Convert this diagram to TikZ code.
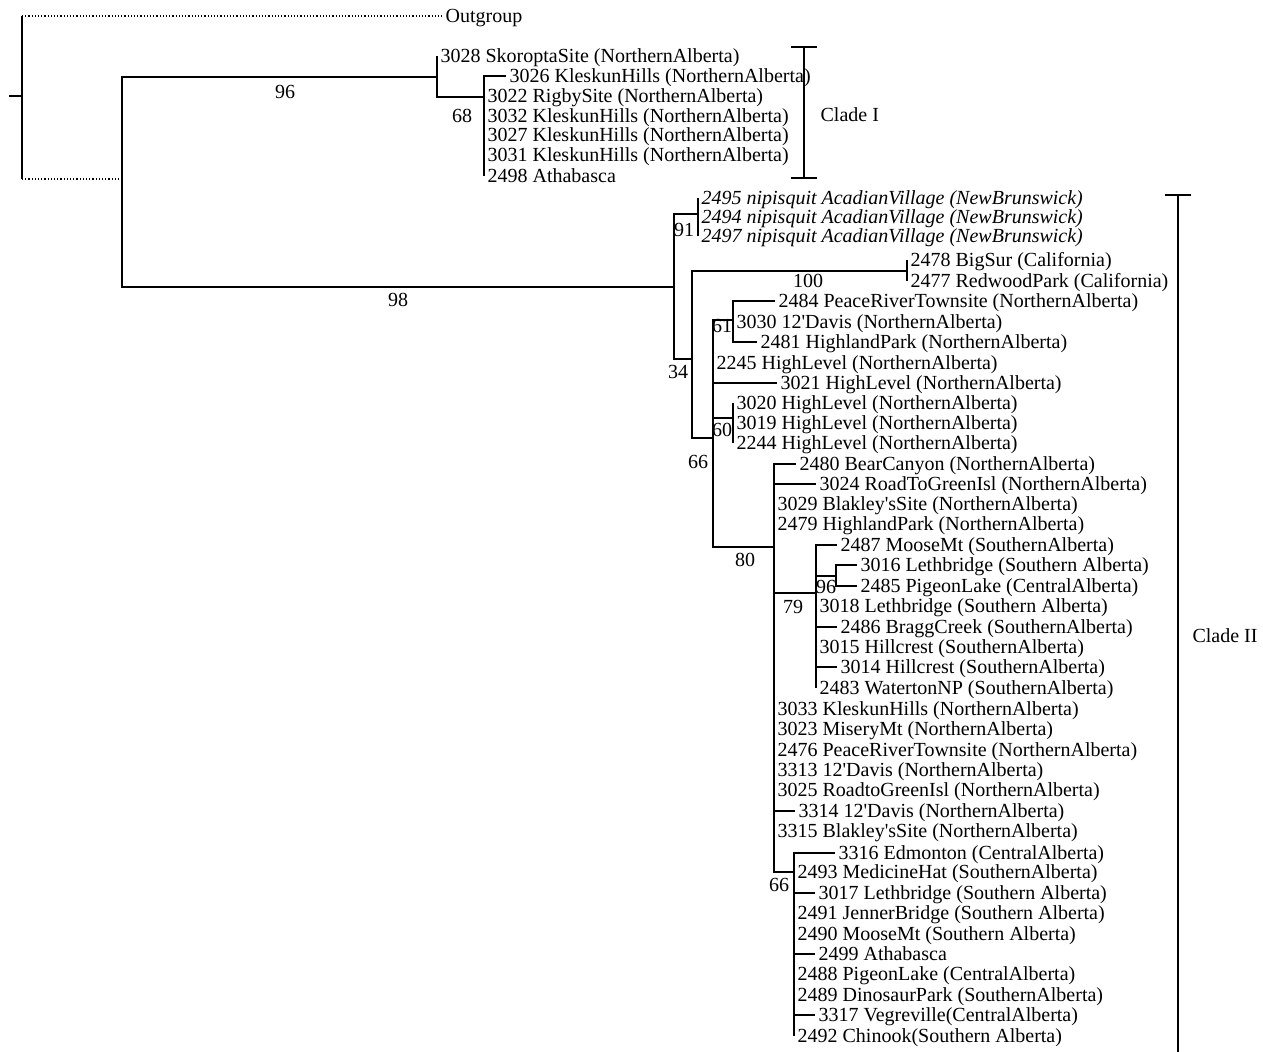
\documentclass[tikz,border=0pt]{standalone}
\usepackage{fontspec}
\newfontfamily\treefont{Liberation Serif}
\usepackage{tikz}

\begin{document}
\begin{tikzpicture}[
  x=0.5pt, y=-0.5pt,
  every node/.style={font=\treefont\fontsize{10}{12}\selectfont},
  leaf/.style={anchor=west, inner xsep=1.5pt, inner ysep=0pt, text height=6.6pt, text depth=0pt},
  boot/.style={inner sep=0pt, text height=6.6pt, text depth=0pt},
  every path/.style={line width=0.6pt},
  clade/.style={line width=1.3pt}
]
  \useasboundingbox (0,0) rectangle (1263,1052);

  \coordinate (root) at (9,96);
  \coordinate (r0) at (22,96);
  \coordinate (ing) at (122,179);
  \coordinate (c96) at (437,77);
  \coordinate (c68) at (484,97);
  \coordinate (c98) at (674,287);
  \coordinate (c91) at (698,214);
  \coordinate (c34) at (692,359);
  \coordinate (c100) at (907,271);
  \coordinate (c66) at (713,438);
  \coordinate (c61) at (733,320);
  \coordinate (c60) at (733,418);
  \coordinate (c80) at (774,547);
  \coordinate (c79) at (816,593);
  \coordinate (c96b) at (836,576);
  \coordinate (c66b) at (794,872);

  \node[leaf] (og) at (442,16) {Outgroup};

  \node[leaf] (l3028) at (437,56) {3028 SkoroptaSite (NorthernAlberta)};
  \node[leaf] (l3026) at (506,76) {3026 KleskunHills (NorthernAlberta)};
  \node[leaf] (l3022) at (484,96) {3022 RigbySite (NorthernAlberta)};
  \node[leaf] (l3032) at (484,116) {3032 KleskunHills (NorthernAlberta)};
  \node[leaf] (l3027) at (484,135) {3027 KleskunHills (NorthernAlberta)};
  \node[leaf] (l3031) at (484,155) {3031 KleskunHills (NorthernAlberta)};
  \node[leaf] (l2498) at (484,176) {2498 Athabasca};

  \node[leaf] (l2495) at (698,198) {\itshape 2495 nipisquit AcadianVillage (NewBrunswick)};
  \node[leaf] (l2494) at (698,217) {\itshape 2494 nipisquit AcadianVillage (NewBrunswick)};
  \node[leaf] (l2497) at (698,236) {\itshape 2497 nipisquit AcadianVillage (NewBrunswick)};
  \node[leaf] (l2478) at (907,260) {2478 BigSur (California)};
  \node[leaf] (l2477) at (907,281) {2477 RedwoodPark (California)};
  \node[leaf] (l2484) at (775,301) {2484 PeaceRiverTownsite (NorthernAlberta)};
  \node[leaf] (l3030) at (733,322) {3030 12'Davis (NorthernAlberta)};
  \node[leaf] (l2481) at (757,342) {2481 HighlandPark (NorthernAlberta)};
  \node[leaf] (l2245) at (713,363) {2245 HighLevel (NorthernAlberta)};
  \node[leaf] (l3021) at (777,383) {3021 HighLevel (NorthernAlberta)};
  \node[leaf] (l3020) at (733,403) {3020 HighLevel (NorthernAlberta)};
  \node[leaf] (l3019) at (733,423) {3019 HighLevel (NorthernAlberta)};
  \node[leaf] (l2244) at (733,443) {2244 HighLevel (NorthernAlberta)};
  \node[leaf] (l2480) at (796,464) {2480 BearCanyon (NorthernAlberta)};
  \node[leaf] (l3024) at (816,484) {3024 RoadToGreenIsl (NorthernAlberta)};
  \node[leaf] (l3029) at (774,504) {3029 Blakley'sSite (NorthernAlberta)};
  \node[leaf] (l2479) at (774,524) {2479 HighlandPark (NorthernAlberta)};
  \node[leaf] (l2487) at (837,545) {2487 MooseMt (SouthernAlberta)};
  \node[leaf] (l3016) at (857,565) {3016 Lethbridge (Southern Alberta)};
  \node[leaf] (l2485) at (857,586) {2485 PigeonLake (CentralAlberta)};
  \node[leaf] (l3018) at (816,606) {3018 Lethbridge (Southern Alberta)};
  \node[leaf] (l2486) at (837,627) {2486 BraggCreek (SouthernAlberta)};
  \node[leaf] (l3015) at (816,647) {3015 Hillcrest (SouthernAlberta)};
  \node[leaf] (l3014) at (837,667) {3014 Hillcrest (SouthernAlberta)};
  \node[leaf] (l2483) at (816,688) {2483 WatertonNP (SouthernAlberta)};
  \node[leaf] (l3033) at (774,709) {3033 KleskunHills (NorthernAlberta)};
  \node[leaf] (l3023) at (774,729) {3023 MiseryMt (NorthernAlberta)};
  \node[leaf] (l2476) at (774,750) {2476 PeaceRiverTownsite (NorthernAlberta)};
  \node[leaf] (l3313) at (774,770) {3313 12'Davis (NorthernAlberta)};
  \node[leaf] (l3025) at (774,790) {3025 RoadtoGreenIsl (NorthernAlberta)};
  \node[leaf] (l3314) at (795,811) {3314 12'Davis (NorthernAlberta)};
  \node[leaf] (l3315) at (774,831) {3315 Blakley'sSite (NorthernAlberta)};
  \node[leaf] (l3316) at (835,853) {3316 Edmonton (CentralAlberta)};
  \node[leaf] (l2493) at (794,872) {2493 MedicineHat (SouthernAlberta)};
  \node[leaf] (l3017) at (815,893) {3017 Lethbridge (Southern Alberta)};
  \node[leaf] (l2491) at (794,913) {2491 JennerBridge (Southern Alberta)};
  \node[leaf] (l2490) at (794,934) {2490 MooseMt (Southern Alberta)};
  \node[leaf] (l2499) at (815,954) {2499 Athabasca};
  \node[leaf] (l2488) at (794,974) {2488 PigeonLake (CentralAlberta)};
  \node[leaf] (l2489) at (794,995) {2489 DinosaurPark (SouthernAlberta)};
  \node[leaf] (l3317) at (815,1015) {3317 Vegreville(CentralAlberta)};
  \node[leaf] (l2492) at (794,1036) {2492 Chinook(Southern Alberta)};

  \node[boot] (b96) at (285,92) {96};
  \node[boot] (b68) at (462,116) {68};
  \node[boot] (b98) at (398,300) {98};
  \node[boot] (b91) at (684,230) {91};
  \node[boot] (b100) at (808,281) {100};
  \node[boot] (b61) at (722,326) {61};
  \node[boot] (b34) at (678,372) {34};
  \node[boot] (b60) at (722,430) {60};
  \node[boot] (b66) at (698,462) {66};
  \node[boot] (b80) at (745,560) {80};
  \node[boot] (b79) at (793,607) {79};
  \node[boot] (b96b) at (826,587) {96};
  \node[boot] (b66b) at (779,885) {66};

  \draw (root) -- (r0);
  \draw (r0 |- og.west) -- (r0 |- ing);
  \draw[densely dotted] (r0 |- og.west) -- (og.west);
  \draw[densely dotted] (r0 |- ing) -- (ing);
  \draw (ing) |- (c96);
  \draw (ing) |- (c98);

  \draw (c96) |- (l3028.west);
  \draw (c96) |- (c68);
  \draw (c68) |- (l3026.west);
  \draw (c68) |- (l3022.west);
  \draw (c68) |- (l3032.west);
  \draw (c68) |- (l3027.west);
  \draw (c68) |- (l3031.west);
  \draw (c68) |- (l2498.west);

  \draw (c98) |- (c91);
  \draw (c98) |- (c34);
  \draw (c91) |- (l2495.west);
  \draw (c91) |- (l2494.west);
  \draw (c91) |- (l2497.west);
  \draw (c34) |- (c100);
  \draw (c34) |- (c66);
  \draw (c100) |- (l2478.west);
  \draw (c100) |- (l2477.west);

  \draw (c66) |- (c61);
  \draw (c66) |- (l2245.west);
  \draw (c66) |- (l3021.west);
  \draw (c66) |- (c60);
  \draw (c66) |- (c80);
  \draw (c61) |- (l2484.west);
  \draw (c61) |- (l3030.west);
  \draw (c61) |- (l2481.west);
  \draw (c60) |- (l3020.west);
  \draw (c60) |- (l3019.west);
  \draw (c60) |- (l2244.west);

  \draw (c80) |- (l2480.west);
  \draw (c80) |- (l3024.west);
  \draw (c80) |- (l3029.west);
  \draw (c80) |- (l2479.west);
  \draw (c80) |- (c79);
  \draw (c80) |- (l3033.west);
  \draw (c80) |- (l3023.west);
  \draw (c80) |- (l2476.west);
  \draw (c80) |- (l3313.west);
  \draw (c80) |- (l3025.west);
  \draw (c80) |- (l3314.west);
  \draw (c80) |- (l3315.west);
  \draw (c80) |- (c66b);

  \draw (c79) |- (l2487.west);
  \draw (c79) |- (c96b);
  \draw (c79) |- (l3018.west);
  \draw (c79) |- (l2486.west);
  \draw (c79) |- (l3015.west);
  \draw (c79) |- (l3014.west);
  \draw (c79) |- (l2483.west);
  \draw (c96b) |- (l3016.west);
  \draw (c96b) |- (l2485.west);

  \draw (c66b) |- (l3316.west);
  \draw (c66b) |- (l2493.west);
  \draw (c66b) |- (l3017.west);
  \draw (c66b) |- (l2491.west);
  \draw (c66b) |- (l2490.west);
  \draw (c66b) |- (l2499.west);
  \draw (c66b) |- (l2488.west);
  \draw (c66b) |- (l2489.west);
  \draw (c66b) |- (l3317.west);
  \draw (c66b) |- (l2492.west);

  \coordinate (ctop1) at (804,47);
  \coordinate (cbot1) at (804,178);
  \draw[clade] (ctop1) -- (cbot1);
  \draw[clade] ([xshift=-6.5pt]ctop1) -- ([xshift=6.5pt]ctop1);
  \draw[clade] ([xshift=-6.5pt]cbot1) -- ([xshift=6.5pt]cbot1);
  \node[leaf] (clade1) at (817,115) {Clade I};

  \coordinate (ctop2) at (1178,195);
  \coordinate (cbot2) at (1178,1052);
  \draw[clade] (ctop2) -- (cbot2);
  \draw[clade] ([xshift=-6.5pt]ctop2) -- ([xshift=6.5pt]ctop2);
  \node[boot] (clade2) at (1225,636) {Clade II};
\end{tikzpicture}
\end{document}
